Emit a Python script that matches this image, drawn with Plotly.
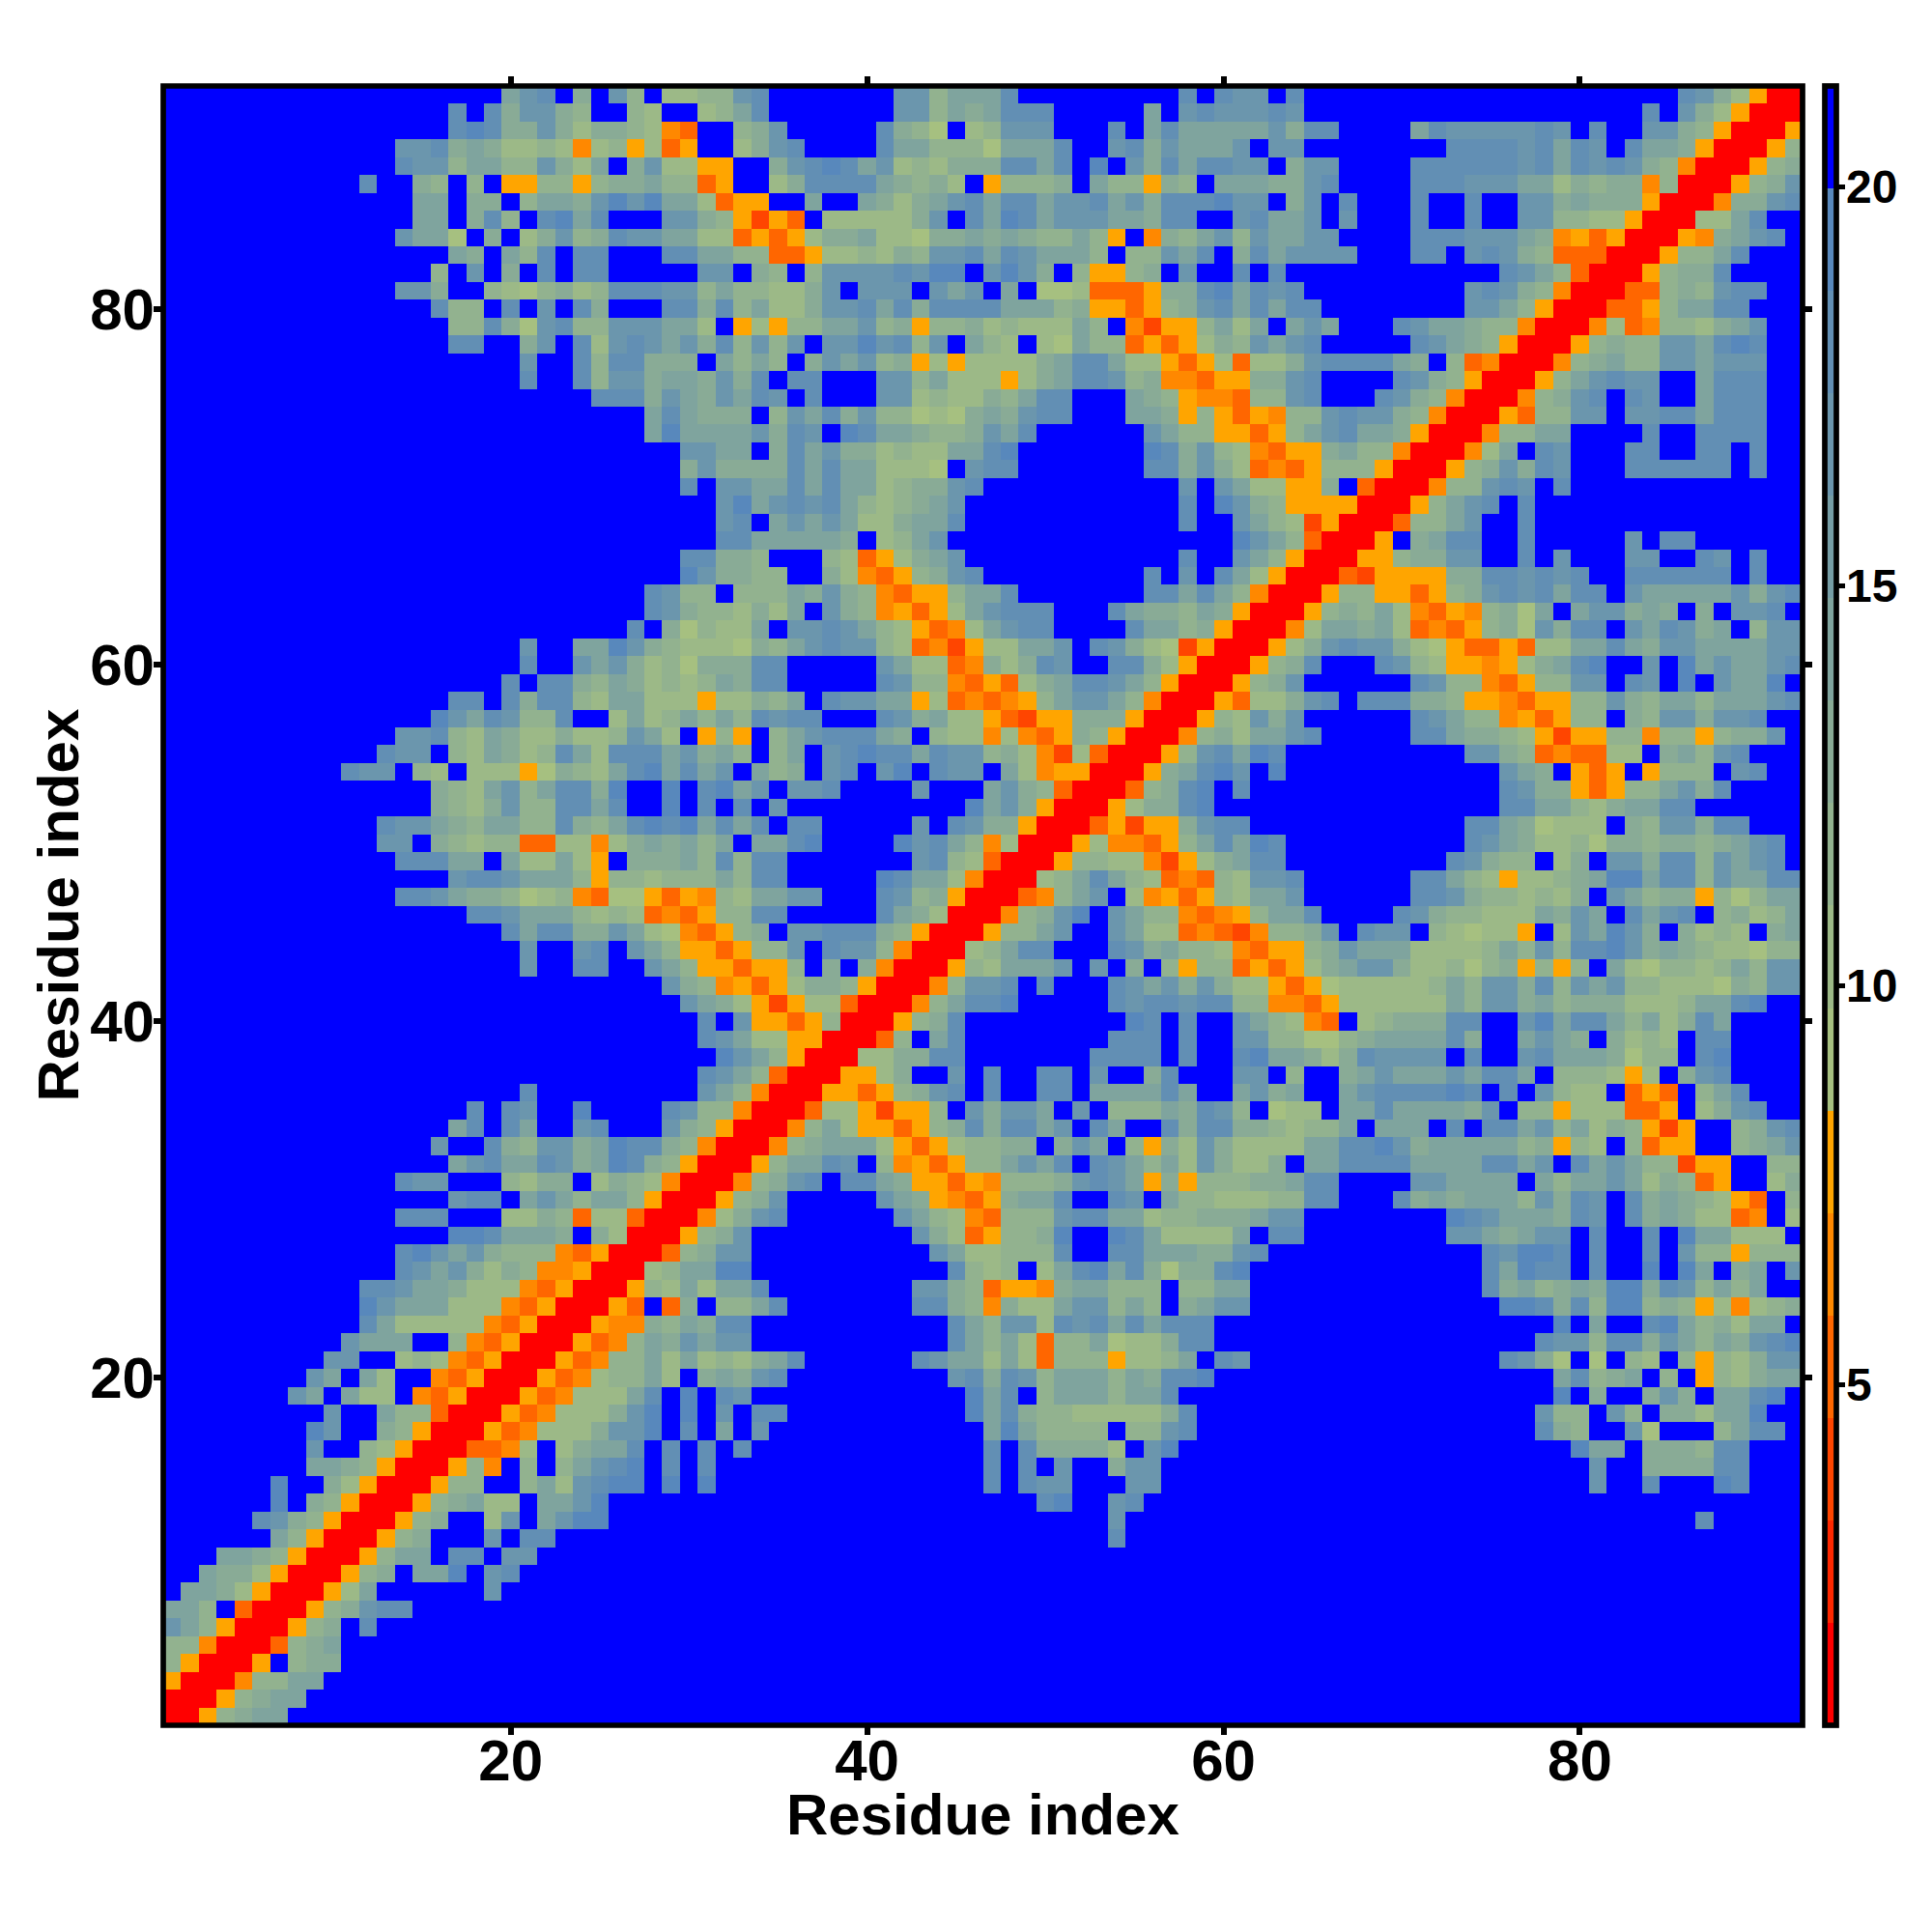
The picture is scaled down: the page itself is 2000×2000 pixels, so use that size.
import re
import plotly.graph_objects as go

# Discrete distance classes (lowest to highest)
level_chars = "abcdefghijklmno."
level_colors = ["#ff0000", "#ff2800", "#ff4500", "#ff6600", "#ff8800", "#ffa500",
                "#a6c080", "#9cb987", "#92b28f", "#89ab96", "#7fa49e", "#759da5",
                "#6b96ad", "#628fb4", "#5888bc", "#0000ff"]
zmin, zmax = 0.74, 21.26
residues = list(range(1, 93))
tick_residues = [20, 40, 60, 80]
bar_ticks = [5, 10, 15, 20]
axis_title = "Residue index"

# Classes per cell, top row first. A leading number = that many '>20' cells first.
rows_left = [
"19klm.j.li.hhi","16m.mjllji..ih..h","16mnmjjljhjjihed.","13llmjkjhhihehifhdf.","13mllikkiiljhk.jlhhf",
"11m..ji.i.ffiifijjkiid","14kk.jj.ikkjlnlnkkh","14kk.jmi.mnkm...llj","13lkkg.j.hjlijmllkkh","16kj.kim.mm...mmk",
"15i.l.j.m.mm.....l","13llj..ihgijhimmmlli","15mii.m.l.mj...mmj","16iimjglmiilllkkh","16mm..jl.mhlmlklj",
"20l..mimmjjj.","20m..milljkkj","24mmmjlkj","27kmkj","27knkk",
"29ll","29jl","29m.","","",
"","29mm","29nl","27mlii","27mlji",
"26m.jgi","20l..kknljihh","20m..lkljhigj","19m.mmjikjhihi","16mm.mjmmihkkhhhf",
"15nlkmliim..hkhiki","13llmihkjhhjhhilkh.f","12mll.ihkjhimkhmmmklj","10mll.ih.hhhfgjihkmnkmk","15jihklikmmjn..n.m",
"15jihjliimmkm..n.m","12mllkjikkiimjikmnmnk","12ll.jihiiddhhehjkjki","13mmmkk.khhkhf.jjjki","16lmmlkkkifiihiii",
"13mmlkjjighiedggfdfe","17mmlkkkihihdedf","19mkmmjjlkhged","20l..lm.lkiff","20l..mm..lkif",
"28lji","29lk","30m","30m","",
"30m","20m.........l","17m.ml..n....mli","16km.mk..lm...lji","15l..mjilljknmmjie",
"16klmkkmljknmjifa","13mll...ihjj.hjiheaa","16lmm.klkikkifaaa","13mmm...hhjidhhdaaae","16nnmkkkj.jhaaafi",
"13mnlkljiiiedfaaadij","13mlkljhjieefaaahikk","11mmlkkjhhhedfaaafihkh","11nlkkkhhhedfaaafd.dj.","11mkhhhhhedfaaafeejikj",
"10lkkk..iedfaaafdeikjlk","9ll..hihedfaaafdeiikhkh","8lk.kh..edfaaafdehiikh.j","7lk.khh.edfaaafdehhhkm.n.","9l..kiidaaafdehhhjln.n.",
"8nl..jifaaafdehhhjlln.m.","8l..ihfaaaddeh.hjkkm.m.m","8kkjifaaafie.i.iklmn.m.m","6n..jhfaaafii..ikhlmnn.n.n","6n.jifaaafijkhh.kkln",
"5mljifaaafij..hl.klnn","6kifaaafij...l.mm","3kkjifaaafikk.mm.ll","2kjjhfaaafij.kkn.lm","1kkjhfaaafhk......l",
"0kki.daaafijlmm","0lkifaaafij.m","0iieaaadijk","0ifaaaf.ijj","0faaaeiikk",
"0aaafijkk","0aafijkk",
]
rows_mid = [
"ilm.......llikkkm.........m.mll","ikm.......llikjkmmm.....k.lmlll",".ijl.....mjig.hilll...m.kmkkkkk",".hjlm....mkkiiigkkkm..lmjlkkkl.","f..jlmnmklhihjjjmmkm.n.ljmkmmll",
"f..hjmmmmkjijh.fiiij.kiifji.kkk","dff..k..kjhjklmkmmkllmkljmmmnll","ifcfd.hhhhhjl.mknmklllkkjmm..lm","hdfdfhjjkhhgjjkjkjiikif.ejiklil","kiiddfhhihjillmkmlkkki.iilkm.jm",
"l.ji.illllmlnn.lnlj.iffij.l..m.","kiihhjl.lll.lkl.k.gghdddfjjmnkm","mikhhjllmkmjmmmmkkkijffdfijlmkm",".fhfiikklijfiijhihhhki.ecffikhk","milil.llnlmil.kih.hgkiidfdfhjil",
"kiki.jlklijfhfhhhhjkmmkhhfdfhdh","ljm.mm...llikhhhfhjkmmlijeedffj","lkml.m...llhihhjikmm...kjifeedi","jj.ilkmjliighgjkjlmm...kkjfifdf","kkljml.nmkkjiijlkm......lkiiffd",
"kk.jmkljjhihhkkmn.......nmjlihe","jjjjmkmkkhhhg.lmm.......mmjljhd","llkkmkmkkhijjlm...........l.lkh","lnklmlmkihijkl............m.nlj","lm.klklkhhjkkm............m..lk",
"mmkkkkkj.hikl................nl","jji...ihdfhjkl............m..lk","jjii..jhedfijlm.........m.l.mkh",".iiikjljiedffikkm.......mmkmkie","ihjhk.ljiefdfhklmmm...mkjjikjfa",
"hhk.llmlkihfdehklmm....mkkijfaa","hgjiklmllihdecfhhkkl.mljhgcfaaa","jjmm.....lkhhdejhjml..mmjhfaaaf","kjmm.....mliiedfdhjkmmlkifaaafi","hhjik.mllkkfhdedefikllkieaaafdh",
"kimlmm...mljkhhfdcffjjjfaaafihl","if.iklmmmkj.ihhehedfjifaaaeijhk","ki.ik.lmnmmkmllijhechdaaafilmkn","l.kij.lm.ln.mll.kheffaaafjkmnl.","nkl.llm....l...kljidaaadijmn.m.",
".m.l..........nkljfaaafhjjmn...","mkm.mm.....l.mljjfaaadfcffjlmm.","k.kkmn....nlmkiehaaafheedfikmkn","mimm.......lmihdaaafiihhecfhjkm","kimm.....nmkkheaaahikmkihdedihl",
"ihkkll...mlijfaaadeikl.hefdfihk","iimm.....mkjhaaaeijln.lkiiedefi","fij.llmmmjifaaafiikl..lkhhdedce","dfiil.mllieaaahikmm...mljkiihed","fdffi.j.jeaaafihkkkl.l.j.ifiidf",
"efdfhjjifaaaeillm.m...mlkljljhh","jhfcfhhdaaaeikmmn.....mlmmlmmii",".lffdfiaaafijm.........nm.m..lk","lkhhffaaadi.km........mmm.m..ll","nlkifaaahhjjmm.......mmmm.m..mn",
"lkidaaaffhj..l.m..mm.l..jm...ll","kieaaaffdfijlm.m..mm.kkkkmk..kl","ieaaadhhfcffi.ljllk.l.iiikjmli.","faaaeikhffdfijmjmmkl.mk..mjmmjj","aaaeijkkkhfdfhiijj.jlk.ifjhljhh",
"aafikkml.iefdfiiklkm.mlkikhljhh","aeijlm.mmkjffdfeiiijlmlkfjfiiij","fijl.....lkjfedfjkkm..ml.kiihhh","hjlm......lkihediiilmmkkhiijjjk","jl.........ljhdfiijn..nmkhhhhk.",
"ll..........lkhhiiim..mmkkkjjlm","nn...........mihi.hkmnkmjgjjmn.","kkm........lljidffejkkiii.iikk.","iikm.......mmjiejhhklliki.jkll.","mm...........mkillhmlmkmkmmm...",
"ll...........mkikhdiikghhjmm...","ihjkm......mlkkhkhdiiifhhik.ml.","kjlm.........lmjmlikkkikjmmn...","ml............nkm.ikkkikkm","l.mm..........nkmjiihhhhhjm",
"k.l............knkiiii.iilm",".m.............m.mjjjjh.ln","15m.m.l..jll","15m.mll...ll","18mn..lm",
"22l","22m","","","",
"","","","","",
"","",
]
rows_right = [
".m.....................mljhfaa","ml...................m.ljhfaaa","ljmm....kmlllllml.m..lljifaaaf","ll........mmmmlmkml.mkkjfaaafi",".jll....mmmmmmlmkmlmljieaaafij",
"jjlm....mmmlllkkhjijjeiaaafijl",".jl.m...m..m..lljkjjjfaaaejjlm","kkl.l...m..m..lliihhfaaahhkm..","kkll....mmmlllkjefdfaaafejklm.","kllll...mm.lmljidddaaafiikm...",
"m............mlkidaaafijjm....","lm.........lmljieaaaddijilmm..","kmm........llkifaaaddfikkmm...",".klk...mlkkjiieaaaehdeiihjkl..","klm.....mlkjifaaafijiillkmnm..",
"hjlmmmmkj.ideaaaeijkiillklll..","jlm....mljifaaafiklmll..kmmm..","ilm...mljieaaaeijlm.ml..kmmm..","eiilmlljieaaafdiill.llmmkmmm..","fiklmkkjfaaaeiikk....m..mmmm..",
"dffjkiieaaaehk.ml...mm..mm.m..","edfiiifaaafijljml...mmmmmm.m..","hffj.daaaeiilml.m.............","iffffaaafiklm.m","ihcfaaadiikl..m",
"kidaaaf.jkmm..m.....l.mm","ifaaaffijjll..m.l...ll..ml.m..","faaadcffffjjmmlmlm..mmmmmm.m..","aaafiiffdfijlmlmkmm.lkkkkkljlm","aafijikhedfeijgk.klljkj.j.llm.",
"aehkkjkhdedfijgljmm.lkmljk.ill","fhjlmlljhgfddfdhhkkmkjllkkkkll","ijm...mlihffefhjkmn..l.nklkklm","jl......mliiedfiill.ml.n.lkkn.","hjlm.mmmjjiffedffiiljikkikkklm",
"jl......mlkiiefdfii.jilljllm..","klm.....mmkjjihfcffiieiifijjl.","m..........lljideddhh.jkilm...","n............lkj.fdf.fiii.lm..",".............mljjfdfiikljm....",
"13mmkkihjkkmm","11mmkjghhh.jilljmm","m..........mlkjhhigjjijjijklm.","m.........mljii.hj.lljmmilklm.","lm......mmkihfhhijknnkmmilkkmm",
"kl......mmljiihihj.lkijjfigikk","kkm....mljiihhhkjlk.mklm.ijhik","iijl.mll.ihghhf.hlknlj.jhih.jk","ffijlkkkhhhhikilimmnljkjihhgii","dfhjklljhhigijfifi.khgiihikill",
"fdfghhhhhikilljmilkliihhhgjill","eedfhhhhhhkilljkijjjhhhikkmn..","ihed.hijjjmm..lnkmmkikhjmk....","iiggijkkkkmj..klkj.jhih.mm....","kkjhjmllll.m..lmkkkjgii.mn....",
".i..jklkkklkmmk.iiihfh.jlm....","jk..klmmmmnm.m.lihh.dfd.ikm...","ghh.kkmkkkkjl.iifhhhddf.hjlm..","ihiik.kkk.m.mmklikhjifcf..ijlm","hhkkmmnljkkkkkijfih.idff..ijkl",
"j.kkmmmmkkkkmmkl.mklkiicff..ii","jkmm....llkkkk.kikklkhjidf..hj","iimm...mjkjkkkiljml.mjkjihfd.i","ll........nmlkkkjml.mjkjhhde.h","mm........llkjkll.m..m.nkkhhh.",
"12mlnnm.m..m.liifiii","12mknmm.m..n.nk.jk.l","12mjkijkjnnjmlikik..","13nnmjminnijifhehij","16n.k..mnkijhkk.",
"15mllimmjlkikjlmn","13mljg.g.ih.ifihjll","16kmijk.i.fihjkk","16n.j..jlj.kkmn.","15lii.li.jjhkkn",
"15mji..lg...ikmm","17nkk.jjjimm","18l..jjjjmm","18l..m...nm","",
"24m","","","","",
"","","","","",
"","",
]

def expand(text, width):
    m = re.match(r"(\d*)(.*)", text)
    lead = int(m.group(1)) if m.group(1) else 0
    return ("." * lead + m.group(2)).ljust(width, ".")[:width]

# perceived shade letter -> colour-bar class index
shade_class = {c: i for i, c in enumerate(level_chars)}
shade_class.update({"l": 12, "m": 13, "n": 14})
step = (zmax - zmin) / len(level_chars)

def class_value(c):
    return zmin + (shade_class[c] + 0.5) * step

z = []
for left, mid, right in zip(rows_left, rows_mid, rows_right):
    row = expand(left, 31) + expand(mid, 31) + expand(right, 30)
    z.append([class_value(c) for c in row])
z.reverse()  # bottom row first for y = 1..92

colorscale = []
n = len(level_colors)
for i, col in enumerate(level_colors):
    colorscale.append([i / n, col])
    colorscale.append([(i + 1) / n, col])

FONT = "Liberation Sans"
W, H = 2000, 2000
L, R, T, B = 169, 134, 89, 214
PW, PH = W - L - R, H - T - B

fig = go.Figure(go.Heatmap(
    x=residues, y=residues, z=z, zmin=zmin, zmax=zmax,
    colorscale=colorscale, hoverongaps=False,
    colorbar=dict(
        thicknessmode="pixels", thickness=12.3, lenmode="fraction", len=1.0,
        x=1.01356, xanchor="left", xpad=0, y=0, yanchor="bottom", ypad=0,
        outlinecolor="black", outlinewidth=5.7, borderwidth=0,
        tickmode="array", tickvals=bar_ticks, ticks="outside", ticklen=7,
        tickwidth=5, tickcolor="black", showticklabels=False,
    ),
))

title_font = dict(family=FONT, size=60, color="black", weight=700)
axis_common = dict(
    range=[0.5, 92.5], tickmode="array", tickvals=tick_residues,
    ticks="outside", ticklen=9, tickwidth=6, tickcolor="black",
    showline=False, mirror="ticks", showgrid=False, zeroline=False,
    tickfont=title_font,
)
fig.update_xaxes(ticklabelstandoff=-25, **axis_common)
fig.update_yaxes(ticklabelstandoff=-13, **axis_common)

annotations = [
    dict(text=axis_title, xref="paper", yref="paper", x=0.5, y=(H - B - 1878) / PH,
         xanchor="center", yanchor="middle", showarrow=False, font=title_font),
    dict(text=axis_title, xref="paper", yref="paper", x=(60 - L) / PW, y=0.5, textangle=-90,
         xanchor="center", yanchor="middle", showarrow=False, font=title_font),
]
for v in bar_ticks:
    annotations.append(dict(
        text=str(v), xref="paper", yref="paper", x=(1909 - L) / PW, y=(v - zmin) / (zmax - zmin),
        xanchor="left", yanchor="middle", showarrow=False,
        font=dict(family=FONT, size=48, color="black", weight=700),
    ))

fig.update_layout(
    width=W, height=H, autosize=False,
    margin=dict(l=L, r=R, t=T, b=B, pad=0, autoexpand=False),
    paper_bgcolor="white", plot_bgcolor="white",
    annotations=annotations,
    shapes=[dict(type="rect", xref="paper", yref="paper", x0=0, x1=1, y0=0, y1=1,
                 line=dict(color="black", width=5.7), fillcolor="rgba(0,0,0,0)", layer="above")],
)
fig.write_html("out.html", post_script="document.body.style.margin='0';",
               config={"displayModeBar": False})
